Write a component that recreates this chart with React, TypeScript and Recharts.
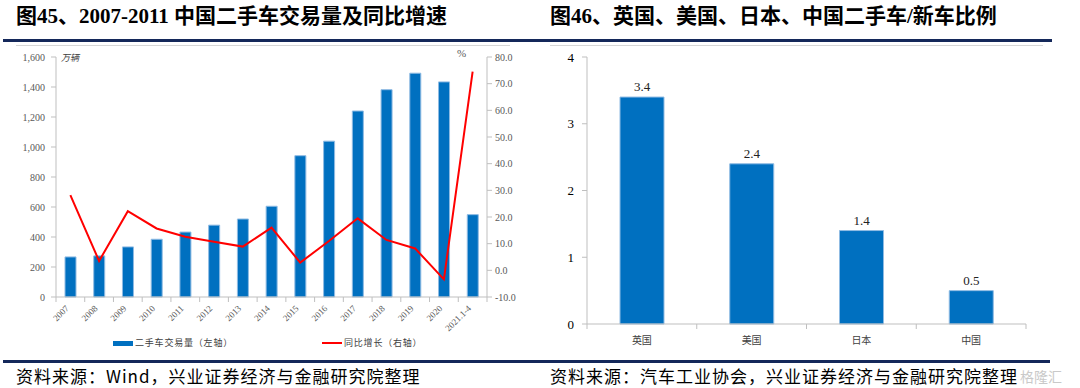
import React from 'react';
import { ComposedChart, BarChart, Bar, Line, XAxis, YAxis, LabelList } from 'recharts';

// 图45 data
const years = ['2007', '2008', '2009', '2010', '2011', '2012', '2013', '2014', '2015', '2016', '2017', '2018', '2019', '2020', '2021.1-4'];
const volume = [267, 274, 334, 385, 433, 479, 520, 605, 942, 1039, 1240, 1382, 1492, 1434, 549];
const growth = [28.2, 3.5, 22.2, 15.7, 12.6, 10.7, 8.9, 16.0, 2.9, 11.0, 19.5, 11.4, 8.2, -3.4, 74.5];
const leftTicks = [0, 200, 400, 600, 800, 1000, 1200, 1400, 1600];
const rightTicks = [-10, 0, 10, 20, 30, 40, 50, 60, 70, 80];

// 图46 data
const countries = ['英国', '美国', '日本', '中国'];
const ratio = [3.4, 2.4, 1.4, 0.5];
const ratioTicks = [0, 1, 2, 3, 4];

const volumeData = years.map((y, i) => ({ year: y, volume: volume[i], growth: growth[i] }));
const ratioData = countries.map((c, i) => ({ country: c, ratio: ratio[i] }));

const SERIF = "'Liberation Serif', 'Times New Roman', 'Noto Sans CJK SC', serif";
const CJK = "'Noto Sans CJK SC', 'Liberation Serif', sans-serif";
const AXIS = '#bfbfbf';
const NAVY = '#14285a';
const BLUE = '#0070c0';

// left chart plot width 431 / 15 categories
const BW_LEFT = 431 / years.length;
// right chart plot width 439 / 4 categories
const BW_RIGHT = 439 / countries.length;

const YearTick = (props: any) => {
  const { x, y, payload, index } = props;
  return (
    <g>
      <line x1={x - BW_LEFT / 2} x2={x - BW_LEFT / 2} y1={y} y2={y + 5} stroke={AXIS} />
      {index === years.length - 1 && (
        <line x1={x + BW_LEFT / 2} x2={x + BW_LEFT / 2} y1={y} y2={y + 5} stroke={AXIS} />
      )}
      <text
        x={x - 1}
        y={y + 12}
        textAnchor="end"
        transform={`rotate(-45 ${x - 1} ${y + 12})`}
        fontSize={9}
        fontFamily={SERIF}
        fill="#595959"
      >
        {payload.value}
      </text>
    </g>
  );
};

const CountryTick = (props: any) => {
  const { x, y, payload, index } = props;
  return (
    <g>
      <line x1={x - BW_RIGHT / 2} x2={x - BW_RIGHT / 2} y1={y} y2={y + 5} stroke={AXIS} />
      {index === countries.length - 1 && (
        <line x1={x + BW_RIGHT / 2} x2={x + BW_RIGHT / 2} y1={y} y2={y + 5} stroke={AXIS} />
      )}
      <text x={x} y={y + 20} textAnchor="middle" fontSize={10} fontFamily={CJK} fill="#404040">
        {payload.value}
      </text>
    </g>
  );
};

const abs = (left: number, top: number, extra: React.CSSProperties = {}): React.CSSProperties => ({
  position: 'absolute',
  left,
  top,
  whiteSpace: 'nowrap',
  ...extra,
});

const titleStyle: React.CSSProperties = {
  fontFamily: SERIF,
  fontWeight: 'bold',
  fontSize: 21,
  lineHeight: '24px',
  color: '#000',
};

const sourceStyle: React.CSSProperties = {
  fontFamily: CJK,
  fontSize: 17,
  lineHeight: '20px',
  color: '#000',
};

const App = () => {
  return (
    <div style={{ position: 'absolute', left: 0, top: 0, width: 1080, height: 388, background: '#fff', overflow: 'hidden' }}>
      {/* titles */}
      <div style={abs(16, 4, titleStyle)}>图45、2007-2011 中国二手车交易量及同比增速</div>
      <div style={abs(550, 4, titleStyle)}>图46、英国、美国、日本、中国二手车/新车比例</div>

      {/* header rules */}
      <div style={abs(3, 39, { width: 537, height: 3, background: NAVY })} />
      <div style={abs(16, 45, { width: 494, height: 1, background: '#d6d6d6' })} />
      <div style={abs(540, 39, { width: 512, height: 3, background: NAVY })} />
      <div style={abs(550, 45, { width: 493, height: 1, background: '#d6d6d6' })} />

      {/* left chart */}
      <div style={abs(0, 0)}>
        <ComposedChart width={540} height={360} data={volumeData} margin={{ top: 57, right: 0, bottom: 13, left: 0 }}>
          <XAxis
            dataKey="year"
            xAxisId="x"
            height={50}
            interval={0}
            tickSize={0}
            tickMargin={0}
            tickLine={false}
            axisLine={{ stroke: AXIS }}
            tick={<YearTick />}
          />
          <YAxis
            yAxisId="left"
            width={56}
            domain={[0, 1600]}
            ticks={leftTicks}
            interval={0}
            tickSize={5}
            tickMargin={6}
            axisLine={{ stroke: AXIS }}
            tickLine={{ stroke: AXIS }}
            tick={{ fontSize: 10, fontFamily: SERIF, fill: '#595959' }}
            tickFormatter={(v: number) => v.toLocaleString('en-US')}
          />
          <YAxis
            yAxisId="right"
            orientation="right"
            width={53}
            domain={[-10, 80]}
            ticks={rightTicks}
            interval={0}
            tickSize={5}
            tickMargin={3}
            axisLine={{ stroke: AXIS }}
            tickLine={{ stroke: AXIS }}
            tick={{ fontSize: 10, fontFamily: SERIF, fill: '#595959' }}
            tickFormatter={(v: number) => v.toFixed(1)}
          />
          <Bar
            dataKey="volume"
            xAxisId="x"
            yAxisId="left"
            barSize={11}
            fill={BLUE}
            stroke="#8fbbe3"
            strokeWidth={1}
            isAnimationActive={false}
          />
          <Line
            dataKey="growth"
            xAxisId="x"
            yAxisId="right"
            type="linear"
            stroke="#ff0000"
            strokeWidth={2}
            dot={false}
            activeDot={false}
            isAnimationActive={false}
          />
        </ComposedChart>
      </div>
      <div style={abs(61, 51, { fontFamily: CJK, fontSize: 9, fontStyle: 'italic', color: '#404040' })}>万辆</div>
      <div style={abs(457, 47, { fontFamily: SERIF, fontSize: 11, color: '#595959' })}>%</div>

      {/* left legend */}
      <div style={abs(113, 341, { width: 20, height: 5, background: BLUE })} />
      <div style={abs(135, 336, { fontFamily: CJK, fontSize: 9, letterSpacing: 0.8, color: '#404040' })}>二手车交易量（左轴）</div>
      <div style={abs(322, 342, { width: 20, height: 2, background: '#ff0000' })} />
      <div style={abs(344, 336, { fontFamily: CJK, fontSize: 9, letterSpacing: 0.8, color: '#404040' })}>同比增长（右轴）</div>

      {/* right chart */}
      <div style={abs(540, 0)}>
        <BarChart width={540} height={360} data={ratioData} margin={{ top: 57, right: 54, bottom: 6, left: 0 }}>
          <XAxis
            dataKey="country"
            height={30}
            interval={0}
            tickSize={0}
            tickMargin={0}
            tickLine={false}
            axisLine={{ stroke: AXIS }}
            tick={<CountryTick />}
          />
          <YAxis
            width={47}
            domain={[0, 4]}
            ticks={ratioTicks}
            interval={0}
            tickSize={5}
            tickMargin={8}
            axisLine={{ stroke: AXIS }}
            tickLine={{ stroke: AXIS }}
            tick={{ fontSize: 13, fontFamily: SERIF, fill: '#000' }}
          />
          <Bar dataKey="ratio" barSize={44} fill={BLUE} stroke="#8fbbe3" strokeWidth={1} isAnimationActive={false}>
            <LabelList
              dataKey="ratio"
              position="top"
              offset={6}
              style={{ fontSize: 13, fontFamily: SERIF, fill: '#222' }}
              formatter={(v: any) => Number(v).toFixed(1)}
            />
          </Bar>
        </BarChart>
      </div>

      {/* footer rules and sources */}
      <div style={abs(3, 360, { width: 537, height: 3, background: NAVY })} />
      <div style={abs(16, 366, { ...sourceStyle, letterSpacing: 1 })}>资料来源：Wind，兴业证券经济与金融研究院整理</div>
      <div style={abs(540, 360, { width: 510, height: 3, background: NAVY })} />
      <div style={abs(550, 366, { ...sourceStyle, letterSpacing: 1 })}>资料来源：汽车工业协会，兴业证券经济与金融研究院整理</div>
      <div style={abs(1020, 367, { fontFamily: CJK, fontSize: 14, lineHeight: '18px', color: '#c9c9c9' })}>格隆汇</div>
    </div>
  );
};

export default App;
